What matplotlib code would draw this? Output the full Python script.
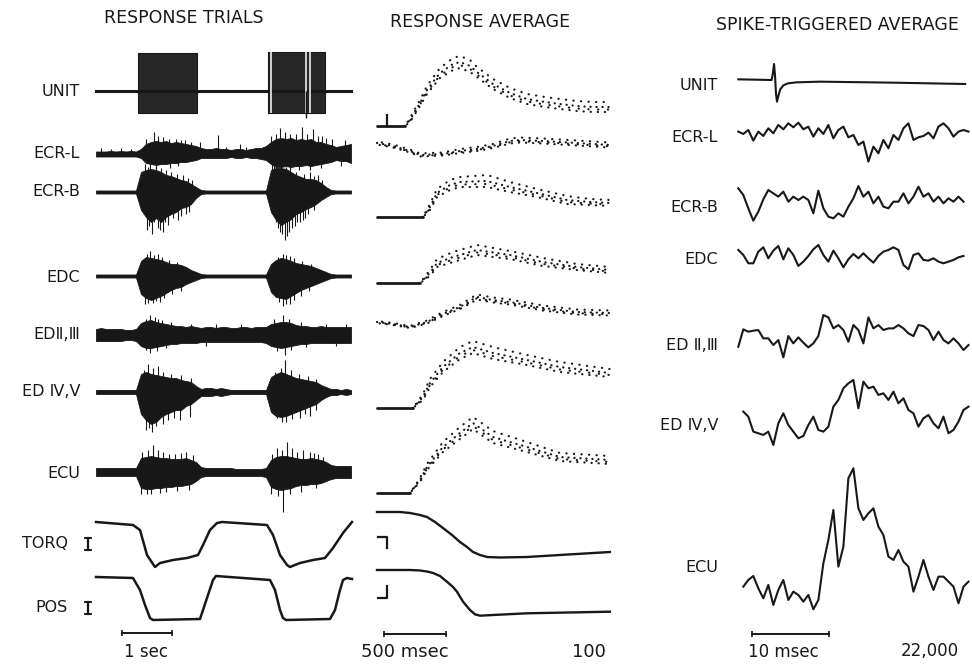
#!/usr/bin/env python3
"""
Unit and EMG records: response trials, response averages, spike-triggered averages
"""

import matplotlib
matplotlib.use("Agg")
import matplotlib.pyplot as plt
import numpy as np

FIG_W, FIG_H = 972, 664
INK = "#181818"
plt.rcParams['font.family'] = ['DejaVu Sans']

# ---------------- response trials (time in s, amplitude in arbitrary units) ----------------
TRIAL_STEP = 0.1  # s between envelope samples

unit_burst_on = [0.84, 3.44]
unit_burst_off = [2.02, 4.58]
unit_burst_top = [38, 39]
unit_burst_bottom = [22, 22]
unit_gap_t = [3.50, 4.20, 4.28]
unit_spike_t = [4.20]
unit_spike_amp = [-27]

ecrl_up = [2.5, 2.5, 2.5, 3, 2.5, 3, 2.5, 3, 2.5, 5, 10, 12, 13, 12, 13, 11, 12, 11, 10, 9,
           8, 6, 5, 5, 6, 5, 5, 4, 5, 5, 4, 5, 6, 6, 8, 12, 15, 16, 15, 16,
           14, 15, 14, 15, 12, 12, 10, 9, 7, 8, 9, 10]
ecrl_down = [2.5, 2.5, 2.5, 2.5, 2.5, 2.5, 2.5, 2.5, 2.5, 4, 9, 10, 11, 10, 10, 9, 9, 8, 8, 7,
             6, 4, 4, 4, 4, 4, 4, 3, 4, 4, 3, 4, 4, 5, 6, 10, 13, 13, 12, 13,
             12, 12, 11, 12, 11, 10, 9, 8, 6, 7, 7, 9]
ecrl_spike_t = [1.16, 1.34, 1.60, 1.78, 2.08, 2.44, 2.88, 3.68, 3.88, 4.12, 4.34, 4.52,
                4.72, 4.98, 1.00, 1.24, 1.46, 1.70, 1.90, 3.50, 3.60, 3.78, 4.00, 4.22,
                4.44, 4.60, 0.10, 0.30, 0.50, 0.70, 2.60, 3.00, 3.20,
                1.08, 1.48, 3.88, 4.28, 1.20, 1.64, 3.60, 4.06, 4.50, 4.90]
ecrl_spike_amp = [22, 17, 15, 14, 12, 19, 10, 26, 20, 27, 25, 18,
                  15, 14, 15, 18, 15, 14, 12, 18, 20, 22, 20, 20,
                  18, 16, 6, 5, 6, 5, 7, 7, 6,
                  -16, -14, -17, -16, -15, -12, -16, -16, -14, -12]

ecrb_up = [1.5, 1.5, 1.5, 1.5, 1.5, 1.5, 1.5, 1.5, 1.5,
           20, 22, 23, 22, 20, 17, 16, 14, 12, 11, 8, 5, 2,
           1.5, 1.5, 1.5, 1.5, 1.5, 1.5, 1.5, 1.5, 1.5, 1.5, 1.5, 1.5, 1.5,
           22, 24, 24, 23, 20, 17, 15, 13, 13, 12, 9, 5, 2,
           1.5, 1.5, 1.5, 1.5]
ecrb_down = [1.5, 1.5, 1.5, 1.5, 1.5, 1.5, 1.5, 1.5, 1.5,
             18, 25, 30, 26, 30, 25, 22, 20, 16, 15, 12, 6, 2,
             1.5, 1.5, 1.5, 1.5, 1.5, 1.5, 1.5, 1.5, 1.5, 1.5, 1.5, 1.5, 1.5,
             20, 28, 33, 30, 27, 22, 20, 17, 15, 12, 8, 5, 2,
             1.5, 1.5, 1.5, 1.5]
ecrb_spike_t = [1.02, 1.12, 1.24, 1.34, 1.44, 1.64, 1.80, 3.64, 3.72, 3.78, 3.86, 3.98,
                4.08, 4.18, 1.06, 1.16, 1.28, 1.38, 1.54, 1.70, 1.86, 3.60, 3.68, 3.82,
                3.92, 4.02, 4.14, 4.24, 4.36,
                0.98, 1.20, 1.50, 1.74, 1.92, 3.52, 3.88, 4.28, 4.44, 1.04, 1.30, 1.40,
                1.62, 1.84, 3.56, 3.70, 3.80, 4.00, 4.16, 4.36, 4.52]
ecrb_spike_amp = [-38, -42, -36, -40, -33, -28, -22, -36, -42, -48, -40, -34,
                  -30, -26, -34, -30, -38, -30, -26, -24, -20, -30, -40, -44,
                  -36, -30, -28, -22, -18,
                  28, 26, 20, 17, 12, 28, 27, 20, 17, 25, 24, 22,
                  18, 14, 26, 26, 25, 20, 18, 16, 12]

edc_up = [1.5, 1.5, 1.5, 1.5, 1.5, 1.5, 1.5, 1.5, 1.5,
          15, 19, 18, 17, 16, 14, 12, 12, 11, 9, 6, 4, 2,
          1.5, 1.5, 1.5, 1.5, 1.5, 1.5, 1.5, 1.5, 1.5, 1.5, 1.5, 1.5, 1.5,
          12, 16, 18, 17, 15, 13, 12, 11, 10, 8, 6, 4, 2,
          1.5, 1.5, 1.5, 1.5]
edc_down = [1.5, 1.5, 1.5, 1.5, 1.5, 1.5, 1.5, 1.5, 1.5,
            18, 22, 24, 22, 20, 17, 14, 12, 11, 8, 6, 4, 2,
            1.5, 1.5, 1.5, 1.5, 1.5, 1.5, 1.5, 1.5, 1.5, 1.5, 1.5, 1.5, 1.5,
            16, 21, 22, 23, 20, 17, 14, 12, 10, 8, 6, 4, 2,
            1.5, 1.5, 1.5, 1.5]
edc_spike_t = [1.08, 1.24, 3.74, 3.88, 1.02, 1.16, 1.32, 1.46, 1.62, 3.64, 3.80, 3.96,
               4.12, 4.30,
               0.98, 1.14, 1.28, 3.74, 3.88, 1.04, 1.20, 1.36, 1.52, 1.70, 3.66, 3.80,
               3.96, 4.10, 4.26]
edc_spike_amp = [25, 22, 22, 20, 22, 21, 19, 16, 14, 19, 21, 18,
                 15, 12,
                 -28, -27, -26, -30, -28, -27, -25, -22, -18, -15, -26, -28,
                 -24, -20, -15]

ed23_up = [6, 7, 6, 6, 6, 6, 5, 5, 6, 12, 14, 15, 13, 12, 11, 10, 9, 9, 8, 9,
           8, 7, 8, 8, 7, 8, 8, 7, 7, 8, 8, 7, 8, 8, 8, 11, 12, 13, 13, 12,
           10, 9, 9, 8, 8, 9, 8, 8, 8, 8, 8, 8]
ed23_down = [6, 6, 6, 6, 6, 6, 5, 5, 6, 11, 13, 13, 12, 11, 10, 9, 9, 8, 8, 8,
             8, 7, 7, 7, 7, 7, 7, 7, 7, 7, 7, 7, 7, 7, 8, 11, 12, 13, 12, 11,
             10, 9, 9, 8, 8, 8, 8, 8, 8, 8, 8, 8]
ed23_spike_t = [1.08, 1.18, 1.32, 3.74, 1.00, 1.24, 1.50, 1.90, 2.40, 2.90, 3.56, 3.86,
                4.10, 4.60, 5.00,
                1.08, 3.78, 1.00, 1.22, 1.40, 2.20, 3.62, 3.90, 4.20, 4.80]
ed23_spike_amp = [20, 18, 15, 20, 16, 16, 13, 11, 11, 11, 16, 16,
                  13, 11, 11,
                  -18, -20, -15, -16, -13, -11, -16, -15, -12, -11]

ed45_up = [2, 2, 2, 2, 2, 2, 2, 2, 2,
           18, 20, 18, 17, 16, 15, 14, 14, 12, 11, 10, 6, 3,
           4, 4, 3, 4, 3, 2, 2, 2, 2, 2, 2, 2, 2,
           15, 18, 20, 18, 16, 14, 13, 12, 11, 10, 7, 5, 3,
           3, 2, 3, 2]
ed45_down = [2, 2, 2, 2, 2, 2, 2, 2, 2,
             22, 28, 32, 30, 25, 22, 20, 18, 18, 14, 12, 8, 4,
             4, 4, 3, 4, 3, 2, 2, 2, 2, 2, 2, 2, 2,
             20, 24, 25, 24, 22, 20, 18, 16, 14, 12, 8, 5, 3,
             3, 2, 3, 2]
ed45_spike_t = [1.04, 1.24, 3.78, 0.96, 1.14, 1.34, 1.50, 1.70, 1.90, 3.58, 3.70, 3.90,
                4.06, 4.24, 4.40,
                1.00, 1.12, 1.34, 1.68, 1.88, 3.72, 4.08, 4.28, 1.06, 1.20, 1.44, 1.56,
                3.62, 3.80, 3.92, 4.18, 4.40]
ed45_spike_amp = [28, 26, 32, 22, 24, 20, 18, 17, 14, 20, 24, 22,
                  18, 16, 13,
                  -38, -40, -32, -28, -25, -30, -26, -24, -36, -34, -28, -26,
                  -26, -30, -27, -22, -18]

ecu_up = [4, 4, 4, 4, 4, 4, 4, 4, 4, 14, 15, 16, 15, 14, 14, 13, 13, 13, 14, 12,
          10, 5, 4, 4, 4, 4, 4, 4, 3, 3, 3, 3, 3, 3, 4, 12, 15, 16, 16, 15,
          14, 13, 13, 14, 13, 12, 10, 7, 6, 6, 6, 6]
ecu_down = [4, 4, 4, 4, 4, 4, 4, 4, 4, 16, 17, 17, 16, 16, 15, 15, 14, 14, 13, 12,
            9, 5, 4, 4, 4, 4, 4, 4, 4, 4, 4, 4, 4, 4, 5, 15, 17, 18, 17, 16,
            14, 13, 13, 12, 12, 11, 9, 7, 6, 6, 6, 6]
ecu_spike_t = [1.14, 1.24, 1.58, 1.80, 1.94, 3.72, 3.82, 3.92, 4.28, 4.44, 0.92, 1.04,
               1.34, 1.46, 1.70, 3.52, 3.62, 4.02, 4.14, 4.36, 4.54,
               1.02, 1.28, 3.74, 0.90, 1.10, 1.40, 1.62, 1.86, 3.50, 3.64, 3.88, 4.10, 4.40]
ecu_spike_amp = [27, 22, 18, 20, 17, 22, 30, 24, 20, 18, 20, 22,
                 20, 18, 19, 18, 24, 20, 22, 19, 15,
                 -22, -21, -40, -22, -22, -20, -19, -18, -22, -24, -22, -20, -16]

torq_t = [0, 0.74, 0.88, 1.02, 1.18, 1.28, 1.54, 1.82, 2.04, 2.14, 2.28, 2.42, 2.52,
          3.42, 3.54, 3.68, 3.82, 3.88, 4.08, 4.34, 4.58, 4.74, 4.94, 5.12]
torq_v = [0, -3, -8, -33, -45, -41, -38, -36, -33, -23, -8, -1, 0,
          -3, -13, -33, -43, -45, -41, -38, -36, -26, -11, 0]
pos_t = [0, 0.74, 0.88, 0.98, 1.08, 1.14, 2.08, 2.14, 2.24, 2.34, 2.40,
         3.48, 3.58, 3.68, 3.74, 3.80, 4.68, 4.78, 4.88, 4.94, 5.02, 5.12]
pos_v = [0, -1, -13, -28, -41, -43, -42, -33, -18, -3, 1,
         -3, -13, -33, -41, -43, -42, -33, -13, -3, -1, -2]

# ---------------- response averages (time in ms) ----------------
avg_unit_t = [0, 226, 266, 347, 403, 508, 613, 669, 750, 806, 935, 1072, 1209, 1354, 1475, 1612, 1741, 1878]
avg_unit_v = [0, 0, 6, 23, 36, 53, 62, 64, 60, 54, 42, 33, 27, 24, 22, 20, 19, 19]
avg_unit_sd = [0, 0, 2, 3, 4, 5, 6, 6, 6, 5, 5, 5, 5, 5, 5, 5, 5, 5]

avg_ecrl_t = [0, 129, 266, 347, 532, 669, 806, 935, 1072, 1153, 1338, 1612, 1878]
avg_ecrl_v = [0, -3, -8, -12, -11, -8, -6, -3, 2, 3, 2, 0, -2]
avg_ecrl_sd = [1.5, 1.5, 1.5, 1.5, 1.5, 2, 2, 2, 2.5, 2.5, 2.5, 2.5, 2.5]

avg_ecrb_t = [0, 371, 427, 484, 589, 669, 887, 1072, 1290, 1532, 1717, 1878]
avg_ecrb_v = [0, 0, 10, 24, 32, 35, 36, 30, 24, 17, 15, 14]
avg_ecrb_sd = [0, 0, 3, 4, 5, 5, 6, 5, 4, 4, 3, 3]

avg_edc_t = [0, 347, 427, 484, 613, 806, 1072, 1338, 1612, 1878]
avg_edc_v = [0, 0, 10, 20, 26, 33, 28, 21, 16, 13]
avg_edc_sd = [0, 0, 3, 4, 5, 5, 4, 4, 3, 3]

avg_ed23_t = [0, 129, 266, 403, 532, 669, 750, 806, 935, 1072, 1338, 1612, 1878]
avg_ed23_v = [0, -2, -5, 0, 8, 15, 21, 25, 22, 20, 14, 10, 9]
avg_ed23_sd = [1, 1, 1, 1.5, 2, 2, 2.5, 2.5, 2.5, 2.5, 2.5, 2.5, 2.5]

avg_ed45_t = [0, 290, 371, 427, 532, 669, 774, 935, 1209, 1475, 1878]
avg_ed45_v = [0, 0, 11, 25, 41, 55, 61, 55, 48, 41, 35]
avg_ed45_sd = [0, 0, 3, 4, 5, 6, 6, 6, 5, 5, 4]

avg_ecu_t = [0, 266, 347, 403, 532, 669, 774, 935, 1209, 1475, 1878]
avg_ecu_v = [0, 0, 13, 26, 46, 60, 70, 56, 46, 36, 33]
avg_ecu_sd = [0, 0, 2, 3, 5, 6, 6, 6, 5, 4, 4]

avg_torq_t = [0, 185, 266, 347, 403, 468, 532, 605, 669, 726, 774, 831, 887, 992, 1209, 1475, 1878]
avg_torq_v = [0, 0, -1, -3, -5, -10, -16, -23, -30, -35, -40, -43, -45, -45.5, -45, -43, -40]
avg_pos_t = [0, 266, 347, 403, 452, 508, 564, 613, 645, 694, 750, 790, 831, 935, 1209, 1878]
avg_pos_v = [0, 0, -0.5, -1.5, -3, -6, -11.7, -17, -21.7, -31.7, -40, -44.3, -45.7, -45, -43.3, -41.7]

# ---------------- spike-triggered averages (time in ms) ----------------
STA_STEP = 0.644  # ms between samples

sta_unit_t = [0, 4.29, 4.45, 4.60, 4.72, 4.85, 4.98, 5.15, 5.40, 5.80, 6.40, 7.50, 10.5, 20.0, 29.2]
sta_unit_v = [2, 0, 20, 48, 15, -40, -65, -48, -28, -16, -10, -7, -5, -8, -12]

sta_ecrl = [5, -2, 10, -22, 5, -8, 15, 0, 25, 12, 30, 18, 32, 12, 20, -10, 15, -2, 25, -15,
            10, 20, -12, -5, -35, -25, -85, -40, -60, -20, -45, -5, -20, 15, 30, -20, -12, -8,
            2, -15, 20, 30, 15, -10, 5, 10, 5]
sta_ecrb = [35, 15, -25, -62, -35, 2, 30, 20, 10, 25, -5, 10, 0, 10, 0, -40, 28, -25, -50, -55,
            -40, -50, -20, 5, 42, 10, 25, -10, 10, -20, -25, -5, -5, 20, -10, 10, 40, 10,
            20, -5, 10, -10, 5, -5, 10, -5]
sta_edc = [25, 10, -15, -15, 20, 33, 0, 23, 37, -3, 30, 10, -23, -10, 7, 27, 40, 10, -10, 23,
           0, -27, -3, 13, 0, 15, 0, -13, 7, 20, 25, 33, 25, -20, -33, 10, 15, -5, -7, 0,
           -10, -15, -10, -5, 3, 7]
sta_ed23 = [-30, 22, 15, 18, 20, -5, -5, -25, -10, -62, 2, -20, -2, -18, -32, -20, 2, 65, 58, 25,
            35, 20, -15, 35, 20, -20, 58, 25, 35, 20, 25, 25, 35, 25, 10, 2, 35, 32, 20, -10,
            15, -10, -20, -5, -20, -40, -25]
sta_ed45 = [35, 20, -25, -30, -35, -25, -65, 0, 30, -5, -25, -45, -38, -5, 20, -20, -25, -10,
            50, 70, 105, 120, 130, 45, 125, 105, 110, 85, 90, 70, 95, 60, 75, 40, 30, -10, 15,
            25, 0, -15, 20, -30, -20, 5, 40, 50]
sta_ecu = [5, 25, 37, 0, -30, 10, -50, -5, 25, -35, -10, -20, -40, -20, -63, -35, 75, 145, 235,
           65, 125, 330, 360, 240, 205, 225, 240, 185, 160, 95, 85, 115, 80, 65, -10, 35, 85,
           35, -5, 35, 35, 20, 5, -45, 5, 20]
STA_GAIN = 1 / 3.0


def make_panel(fig, x0, x1, origin_px, px_per_unit):
    """Axes spanning a column of the figure, x in the panel's time unit, y in pixels"""
    ax = fig.add_axes([x0 / FIG_W, 0, (x1 - x0) / FIG_W, 1])
    ax.set_xlim((x0 - origin_px) / px_per_unit, (x1 - origin_px) / px_per_unit)
    ax.set_ylim(FIG_H, 0)
    ax.axis('off')
    return ax


def scale_bar(ax, t0, t1, y):
    ax.plot([t0, t1], [y, y], color=INK, lw=1.4)
    ax.vlines([t0, t1], y - 3, y + 3, color=INK, lw=1.2)


def draw_emg(ax, base, up, down, spike_t, spike_amp):
    t = np.arange(len(up)) * TRIAL_STEP
    ax.fill_between(t, base - np.asarray(up), base + np.asarray(down),
                    facecolor=INK, edgecolor=INK, linewidth=0.6)
    ax.vlines(spike_t, base, base - np.asarray(spike_amp), color=INK, linewidth=0.8)


def draw_average(ax, base, t, v, sd):
    t = np.asarray(t, float)
    y = base - np.asarray(v, float)
    s = np.asarray(sd, float)
    on = int(np.argmax(s > 0))
    if on > 0:
        ax.plot(t[:on], y[:on], color=INK, lw=2.0, solid_capstyle='round')
        t, y, s = t[on - 1:], y[on - 1:], s[on - 1:]
    dots = dict(color=INK, lw=1.6, dash_capstyle='round')
    ax.plot(t, y, linestyle=(0, (0.1, 2.6)), **dots)
    ax.plot(t, y - s, linestyle=(1.2, (0.1, 3.3)), **dots)
    ax.plot(t, y + s, linestyle=(2.0, (0.1, 3.1)), **dots)
    ax.plot(t, y + 0.5 * s, linestyle=(0.7, (0.1, 4.3)), **dots)


def draw_trials(ax):
    rows = {'UNIT': 91, 'ECR-L': 154, 'ECR-B': 192, 'EDC': 276,
            'ED23': 335, 'ED45': 392, 'ECU': 472, 'TORQ': 522, 'POS': 577}

    base = rows['UNIT']
    ax.plot([0, 5.1], [base, base], color=INK, lw=2.2)
    for on, off, top, bot in zip(unit_burst_on, unit_burst_off, unit_burst_top, unit_burst_bottom):
        ax.fill_between([on, off], base - top, base + bot, facecolor='#262626',
                        edgecolor=INK, linewidth=0.8)
    ax.vlines(unit_gap_t, base - 39, base + 22, color='white', lw=1.1)
    ax.vlines(unit_spike_t, base, base - np.asarray(unit_spike_amp), color=INK, lw=1.0)

    draw_emg(ax, rows['ECR-L'], ecrl_up, ecrl_down, ecrl_spike_t, ecrl_spike_amp)
    draw_emg(ax, rows['ECR-B'], ecrb_up, ecrb_down, ecrb_spike_t, ecrb_spike_amp)
    draw_emg(ax, rows['EDC'], edc_up, edc_down, edc_spike_t, edc_spike_amp)
    draw_emg(ax, rows['ED23'], ed23_up, ed23_down, ed23_spike_t, ed23_spike_amp)
    draw_emg(ax, rows['ED45'], ed45_up, ed45_down, ed45_spike_t, ed45_spike_amp)
    draw_emg(ax, rows['ECU'], ecu_up, ecu_down, ecu_spike_t, ecu_spike_amp)

    ax.plot(torq_t, rows['TORQ'] - np.asarray(torq_v), color=INK, lw=1.8)
    ax.plot(pos_t, rows['POS'] - np.asarray(pos_v), color=INK, lw=1.8)

    # calibration marks beside TORQ and POS
    for yc in (544, 608):
        ax.plot([-0.16, -0.16], [yc - 6, yc + 6], color=INK, lw=1.6)
        ax.plot([-0.22, -0.10], [yc - 6, yc - 6], color=INK, lw=1.4)
        ax.plot([-0.22, -0.10], [yc + 6, yc + 6], color=INK, lw=1.4)

    scale_bar(ax, 0.52, 1.52, 633)


def draw_averages(ax):
    rows = {'UNIT': 126, 'ECR-L': 143, 'ECR-B': 217, 'EDC': 283,
            'ED23': 322, 'ED45': 408, 'ECU': 493, 'TORQ': 512, 'POS': 570}

    draw_average(ax, rows['UNIT'], avg_unit_t, avg_unit_v, avg_unit_sd)
    ax.plot([81, 81], [rows['UNIT'], rows['UNIT'] - 11], color=INK, lw=1.6)
    draw_average(ax, rows['ECR-L'], avg_ecrl_t, avg_ecrl_v, avg_ecrl_sd)
    draw_average(ax, rows['ECR-B'], avg_ecrb_t, avg_ecrb_v, avg_ecrb_sd)
    draw_average(ax, rows['EDC'], avg_edc_t, avg_edc_v, avg_edc_sd)
    draw_average(ax, rows['ED23'], avg_ed23_t, avg_ed23_v, avg_ed23_sd)
    draw_average(ax, rows['ED45'], avg_ed45_t, avg_ed45_v, avg_ed45_sd)
    draw_average(ax, rows['ECU'], avg_ecu_t, avg_ecu_v, avg_ecu_sd)

    ax.plot(avg_torq_t, rows['TORQ'] - np.asarray(avg_torq_v), color=INK, lw=1.7)
    ax.plot(avg_pos_t, rows['POS'] - np.asarray(avg_pos_v), color=INK, lw=1.7)

    # calibration corners
    ax.plot([8, 81, 81], [537, 537, 548], color=INK, lw=1.6)
    ax.plot([81, 81, 8], [586, 598, 598], color=INK, lw=1.6)

    scale_bar(ax, 56, 556, 634)


def draw_sta(ax):
    rows = {'UNIT': 80, 'ECR-L': 133.3, 'ECR-B': 200, 'EDC': 258.3,
            'ED23': 336.7, 'ED45': 423.3, 'ECU': 588.3}
    start = {'ECR-L': 0, 'ECR-B': 0, 'EDC': 0, 'ED23': 0, 'ED45': 1, 'ECU': 1}
    series = {'ECR-L': sta_ecrl, 'ECR-B': sta_ecrb, 'EDC': sta_edc,
              'ED23': sta_ed23, 'ED45': sta_ed45, 'ECU': sta_ecu}

    ax.plot(sta_unit_t, rows['UNIT'] - np.asarray(sta_unit_v) * STA_GAIN, color=INK, lw=1.5)
    for name, vals in series.items():
        t = (start[name] + np.arange(len(vals))) * STA_STEP
        ax.plot(t, rows[name] - np.asarray(vals) * STA_GAIN, color=INK, lw=1.5,
                solid_joinstyle='round')

    scale_bar(ax, 1.72, 11.72, 634)


def main():
    fig = plt.figure(figsize=(FIG_W / 100, FIG_H / 100), dpi=100)
    fig.patch.set_facecolor('white')

    ax_trials = make_panel(fig, 0, 360, 96, 50.0)
    ax_avg = make_panel(fig, 360, 620, 377, 0.124)
    ax_sta = make_panel(fig, 620, FIG_W, 738.3, 7.77)

    draw_trials(ax_trials)
    draw_averages(ax_avg)
    draw_sta(ax_sta)

    def label(x, y, s, ha='right', size=11.5):
        fig.text(x / FIG_W, 1 - y / FIG_H, s, ha=ha, va='center', fontsize=size, color=INK)

    label(184, 18, 'RESPONSE TRIALS', ha='center', size=12.5)
    label(480, 22, 'RESPONSE AVERAGE', ha='center', size=12.5)
    label(837, 25, 'SPIKE-TRIGGERED AVERAGE', ha='center', size=12.5)

    for text, y in [('UNIT', 91), ('ECR-L', 154), ('ECR-B', 192), ('EDC', 277),
                    ('ED\u2161,\u2162', 335), ('ED \u2163,\u2164', 392), ('ECU', 474)]:
        label(80, y, text)
    label(68, 543, 'TORQ')
    label(68, 607, 'POS')

    for text, y in [('UNIT', 85), ('ECR-L', 137), ('ECR-B', 208), ('EDC', 260),
                    ('ED \u2161,\u2162', 345), ('ED \u2163,\u2164', 426), ('ECU', 567)]:
        label(718, y, text)

    label(146, 652, '1 sec', ha='center', size=12)
    label(405, 652, '500 msec', ha='center', size=13)
    label(589, 652, '100', ha='center', size=13)
    label(783, 652, '10 msec', ha='center', size=12)
    label(930, 651, '22,000', ha='center', size=12)

    fig.savefig('out.png', dpi=100, facecolor='white')


if __name__ == "__main__":
    main()
